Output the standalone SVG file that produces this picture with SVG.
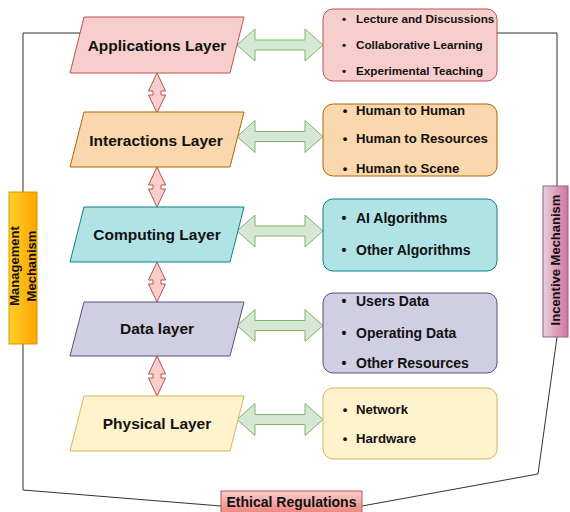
<svg xmlns="http://www.w3.org/2000/svg" width="570" height="512" viewBox="0 0 570 512">
  <defs>
    <style>
      text { font-family: "Liberation Sans", Arial, Helvetica, sans-serif; font-weight: bold; fill: #111; }
      .layer-label { font-size: 15.5px; text-anchor: middle; }
      .item { font-size: 13px; }
      .bullet { text-anchor: middle; }
      .wire { fill: none; stroke: #333; stroke-width: 1; }
      .link { fill: #d5e8d4; stroke: #82b366; stroke-width: 1; }
      .stack { fill: #f8cecc; stroke: #b85450; stroke-width: 1; }
      .side { font-size: 13px; text-anchor: middle; }
    </style>
    <!-- horizontal double arrow between a layer and its detail box -->
    <path id="hArrow" d="M237,0 L255,-16 L255,-5 L305,-5 L305,-16 L323,0 L305,16 L305,5 L255,5 L255,16 Z"/>
    <!-- vertical double arrow between stacked layers -->
    <path id="vArrow" d="M0,0 L8.5,18 L4,18 L4,22 L8.5,22 L0,40 L-8.5,22 L-4,22 L-4,18 L-8.5,18 Z"/>
    <linearGradient id="gradMgmt" x1="0" y1="0" x2="1" y2="0">
      <stop offset="0" stop-color="#ffcd28"/>
      <stop offset="1" stop-color="#ffa500"/>
    </linearGradient>
    <linearGradient id="gradIncentive" x1="0" y1="0" x2="1" y2="0">
      <stop offset="0" stop-color="#e6d0de"/>
      <stop offset="1" stop-color="#d5739d"/>
    </linearGradient>
    <linearGradient id="gradEthics" x1="0" y1="0" x2="0" y2="1">
      <stop offset="0" stop-color="#f8cecc"/>
      <stop offset="1" stop-color="#ea6b66"/>
    </linearGradient>
  </defs>

  <rect width="570" height="512" fill="#ffffff"/>

  <!-- connectors -->
  <g id="connectors">
    <path class="wire" d="M80,33 H23 V192"/>
    <path class="wire" d="M23,344 V490 L221,506"/>
    <path class="wire" d="M497,33 H557 V186"/>
    <path class="wire" d="M557,337 L538,474 L362,506"/>
    <use href="#hArrow" class="link" transform="translate(0,45)"/>
    <use href="#hArrow" class="link" transform="translate(0,136.5)"/>
    <use href="#hArrow" class="link" transform="translate(0,231)"/>
    <use href="#hArrow" class="link" transform="translate(0,325.5)"/>
    <use href="#hArrow" class="link" transform="translate(0,419.5)"/>
    <use href="#vArrow" class="stack" transform="translate(157,73)"/>
    <use href="#vArrow" class="stack" transform="translate(157,167)"/>
    <use href="#vArrow" class="stack" transform="translate(157,262)"/>
    <use href="#vArrow" class="stack" transform="translate(157,356)"/>
  </g>

  <!-- layers -->
  <g id="applications-layer">
    <path d="M84,17 L244,17 L230,73 L70,73 Z" fill="#f8cecc" stroke="#b85450"/>
    <text class="layer-label" x="157" y="50.5">Applications Layer</text>
  </g>
  <g id="interactions-layer">
    <path d="M84,112 L244,112 L230,167 L70,167 Z" fill="#fad7ac" stroke="#b46504"/>
    <text class="layer-label" x="156" y="145.5">Interactions Layer</text>
  </g>
  <g id="computing-layer">
    <path d="M84,207 L244,207 L230,262 L70,262 Z" fill="#b0e3e6" stroke="#0e8088"/>
    <text class="layer-label" x="157" y="239.5">Computing Layer</text>
  </g>
  <g id="data-layer">
    <path d="M84,302 L244,302 L230,356 L70,356 Z" fill="#d0cee2" stroke="#56517e"/>
    <text class="layer-label" x="157" y="333.5">Data layer</text>
  </g>
  <g id="physical-layer">
    <path d="M84,396 L244,396 L230,451 L70,451 Z" fill="#fff2cc" stroke="#d6b656"/>
    <text class="layer-label" x="157" y="428.5">Physical Layer</text>
  </g>

  <!-- detail boxes -->
  <g id="applications-detail">
    <rect x="323" y="9" width="174" height="72" rx="10" fill="#f8cecc" stroke="#b85450"/>
    <g class="item" style="font-size:11.7px">
      <text class="bullet" x="344" y="23">•</text><text x="356" y="23">Lecture and Discussions</text>
      <text class="bullet" x="344" y="49">•</text><text x="356" y="49">Collaborative Learning</text>
      <text class="bullet" x="344" y="75">•</text><text x="356" y="75">Experimental Teaching</text>
    </g>
  </g>
  <g id="interactions-detail">
    <rect x="323" y="104" width="174" height="72" rx="10" fill="#fad7ac" stroke="#b46504"/>
    <g class="item" style="font-size:13.2px">
      <text class="bullet" x="345" y="114.5">•</text><text x="356" y="114.5">Human to Human</text>
      <text class="bullet" x="345" y="143">•</text><text x="356" y="143">Human to Resources</text>
      <text class="bullet" x="345" y="172.5">•</text><text x="356" y="172.5">Human to Scene</text>
    </g>
  </g>
  <g id="computing-detail">
    <rect x="323" y="199" width="174" height="72" rx="10" fill="#b0e3e6" stroke="#0e8088"/>
    <g class="item" style="font-size:14px">
      <text class="bullet" x="344" y="223">•</text><text x="356" y="223">AI Algorithms</text>
      <text class="bullet" x="344" y="255">•</text><text x="356" y="255">Other Algorithms</text>
    </g>
  </g>
  <g id="data-detail">
    <rect x="323" y="293" width="174" height="80" rx="10" fill="#d0cee2" stroke="#56517e"/>
    <g class="item" style="font-size:14px">
      <text class="bullet" x="344" y="305.5">•</text><text x="356" y="305.5">Users Data</text>
      <text class="bullet" x="344" y="337.5">•</text><text x="356" y="337.5">Operating Data</text>
      <text class="bullet" x="344" y="368">•</text><text x="356" y="368">Other Resources</text>
    </g>
  </g>
  <g id="physical-detail">
    <rect x="323" y="388" width="174" height="71" rx="10" fill="#fff2cc" stroke="#d6b656"/>
    <g class="item" style="font-size:13.2px">
      <text class="bullet" x="345" y="413.5">•</text><text x="356" y="413.5">Network</text>
      <text class="bullet" x="345" y="442.5">•</text><text x="356" y="442.5">Hardware</text>
    </g>
  </g>

  <!-- governance frame -->
  <g id="management-mechanism">
    <rect x="9" y="192" width="28" height="152" fill="url(#gradMgmt)" stroke="#d79b00"/>
    <g transform="translate(23,266) rotate(-90)">
      <text class="side" x="0" y="-4.5">Management</text>
      <text class="side" x="0" y="12.5">Mechanism</text>
    </g>
  </g>
  <g id="incentive-mechanism">
    <rect x="543" y="186" width="25" height="151" fill="url(#gradIncentive)" stroke="#996185"/>
    <text class="side" transform="translate(560,260) rotate(-90)" x="0" y="0">Incentive Mechanism</text>
  </g>
  <g id="ethical-regulations">
    <rect x="221" y="491" width="141" height="30" fill="url(#gradEthics)" stroke="#b85450"/>
    <text x="291.5" y="507" text-anchor="middle" style="font-size:14px">Ethical Regulations</text>
  </g>
</svg>
